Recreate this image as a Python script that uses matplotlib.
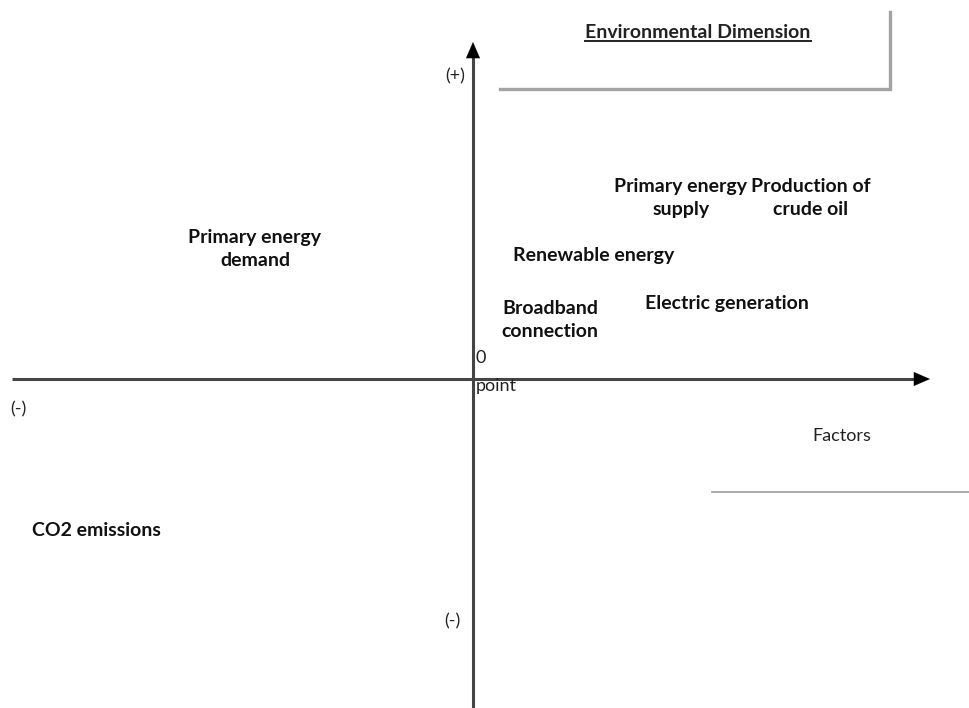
import matplotlib
matplotlib.use("Agg")
import matplotlib.pyplot as plt

# factor labels and their position relative to the 0 point (x: right +, y: up +)
factors = ["Primary energy\ndemand", "Primary energy\nsupply", "Production of\ncrude oil",
           "Renewable energy", "Electric generation", "Broadband\nconnection", "CO2 emissions"]
fx = [-218, 208, 338, 121, 254, 77, -377]
fy = [130, 181, 181, 123, 76, 59, -151]

W, H = 970, 708
ox, oy = 473, 379          # origin in pixel space

fig = plt.figure(figsize=(W / 100, H / 100), dpi=100)
ax = fig.add_axes([0, 0, 1, 1])
ax.set_xlim(-ox, W - ox)
ax.set_ylim(-(H - oy), oy)
ax.axis("off")

FONT = "Lato"
axis_col = "#454545"
head = dict(arrowstyle="-|>,head_length=1.15,head_width=0.5",
            color="black", lw=0.1, shrinkA=0, shrinkB=0)

# axes
x_tip, y_tip = 457, oy - 42
ax.plot([-ox + 12, x_tip - 14], [0, 0], color=axis_col, lw=2.2, solid_capstyle="butt")
ax.annotate("", xy=(x_tip, 0), xytext=(x_tip - 18, 0), arrowprops=head, zorder=3)
ax.plot([0, 0], [-(H - oy), y_tip - 14], color=axis_col, lw=2.2, solid_capstyle="butt")
ax.annotate("", xy=(0, y_tip), xytext=(0, y_tip - 18), arrowprops=head, zorder=3)

# gray frame at top right
ax.plot([27, 417, 417], [oy - 89, oy - 89, oy - 12], color="#a3a3a3", lw=2.4,
        solid_joinstyle="miter")
# line under "Factors"
ax.plot([239, W - ox], [oy - 492, oy - 492], color="#9a9a9a", lw=1.2)

# title with underline
t = ax.text(225, oy - 33, "Environmental Dimension", fontsize=14, fontweight="bold",
            family=FONT, ha="center", va="center", color="#222222")
fig.canvas.draw()
bb = t.get_window_extent().transformed(ax.transData.inverted())
ax.plot([bb.x0, bb.x1], [bb.y0 + 1, bb.y0 + 1], color="#222222", lw=1.4)

# sign / axis labels
small = dict(fontsize=13, family=FONT, color="#222222")
ax.text(-18, oy - 76, "(+)", ha="center", va="center", **small)
ax.text(-ox + 18, oy - 409, "(-)", ha="center", va="center", **small)
ax.text(-21, oy - 621, "(-)", ha="center", va="center", **small)
ax.text(3, oy - 358, "0", ha="left", va="center", **small)
ax.text(3, oy - 386, "point", ha="left", va="center", **small)
ax.text(369, oy - 436, "Factors", ha="center", va="center", **small)

for name, x, y in zip(factors, fx, fy):
    ax.text(x, y, name, ha="center", va="center", fontsize=14, fontweight="bold",
            family=FONT, color="#111111", linespacing=1.45)

fig.savefig("out.png", dpi=100)
